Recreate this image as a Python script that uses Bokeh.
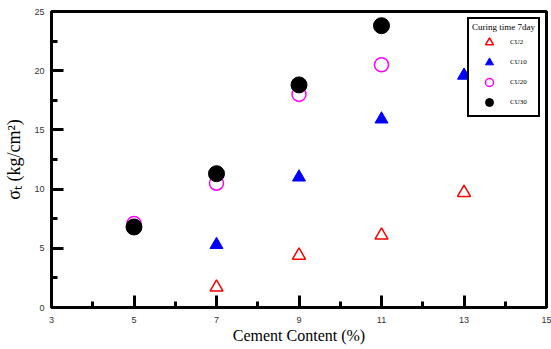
from bokeh.plotting import figure
from bokeh.models import (FixedTicker, Legend, LegendItem, Range1d)
from bokeh.embed import file_html
from bokeh.resources import INLINE

# data
x_major = [3, 5, 7, 9, 11, 13, 15]
x_minor = [4, 6, 8, 10, 12, 14]
y_major = [0, 5, 10, 15, 20, 25]
y_minor = [2.5, 7.5, 12.5, 17.5, 22.5]

cu2_x = [7, 9, 11, 13]
cu2_y = [1.7, 4.4, 6.1, 9.7]
cu10_x = [7, 9, 11, 13]
cu10_y = [5.3, 11.0, 15.9, 19.6]
cu20_x = [5, 7, 9, 11]
cu20_y = [7.1, 10.5, 18.0, 20.5]
cu30_x = [5, 7, 9, 11]
cu30_y = [6.8, 11.3, 18.8, 23.8]

p = figure(width=551, height=349, output_backend="svg", toolbar_location=None,
           x_range=Range1d(3, 15), y_range=Range1d(0, 25),
           min_border_left=51, min_border_right=5, min_border_top=11, min_border_bottom=42)
p.xgrid.visible = False
p.ygrid.visible = False
p.background_fill_color = "white"
p.border_fill_color = "white"
p.outline_line_color = "black"
p.outline_line_width = 3

p.xaxis.ticker = FixedTicker(ticks=x_major, minor_ticks=x_minor)
p.yaxis.ticker = FixedTicker(ticks=y_major, minor_ticks=y_minor)

for ax in (p.xaxis[0], p.yaxis[0]):
    ax.axis_line_width = 3
    ax.axis_line_color = "black"
    ax.major_tick_in = 12
    ax.major_tick_out = 0
    ax.minor_tick_in = 6
    ax.minor_tick_out = 0
    ax.major_tick_line_width = 3
    ax.minor_tick_line_width = 3
    ax.major_label_text_font = "Liberation Sans"
    ax.major_label_text_font_size = "9px"
    ax.major_label_text_color = "#333333"
    ax.axis_label_text_font = "Liberation Serif"
    ax.axis_label_text_font_style = "normal"
    ax.axis_label_text_color = "black"

p.xaxis.axis_label = "Cement Content (%)"
p.xaxis.axis_label_text_font_size = "16px"
p.xaxis.axis_label_standoff = 1
p.xaxis.major_label_standoff = 9
p.yaxis.axis_label = "σₜ (kg/cm²)"
p.yaxis.axis_label_text_font_size = "18px"
p.yaxis.axis_label_standoff = 7
p.yaxis.major_label_standoff = 7

r2 = p.scatter(cu2_x, cu2_y, marker="triangle", size=13, fill_color=None,
               line_color="red", line_width=1.5)
r10 = p.scatter(cu10_x, cu10_y, marker="triangle", size=13, fill_color="blue",
                line_color="blue")
r20 = p.scatter(cu20_x, cu20_y, marker="circle", size=14, fill_color=None,
                line_color="magenta", line_width=1.5)
r30 = p.scatter(cu30_x, cu30_y, marker="circle", size=16, fill_color="black",
                line_color="black")

legend = Legend(items=[LegendItem(label="CU2", renderers=[r2]),
                       LegendItem(label="CU10", renderers=[r10]),
                       LegendItem(label="CU20", renderers=[r20]),
                       LegendItem(label="CU30", renderers=[r30])],
                location="top_right", title="Curing time 7day")
legend.title_text_font = "Liberation Serif"
legend.title_text_font_size = "9px"
legend.title_text_font_style = "normal"
legend.title_text_color = "black"
legend.title_standoff = 0
legend.label_text_font = "Liberation Serif"
legend.label_text_font_size = "7px"
legend.label_text_color = "black"
legend.label_standoff = 4
legend.glyph_height = 20
legend.glyph_width = 34
legend.label_height = 10
legend.spacing = 0
legend.padding = 3
legend.margin = 6
legend.border_line_color = "black"
legend.border_line_alpha = 1
legend.border_line_width = 2
legend.background_fill_alpha = 1
p.add_layout(legend, "center")

open("out.html", "w").write(file_html(p, INLINE))
